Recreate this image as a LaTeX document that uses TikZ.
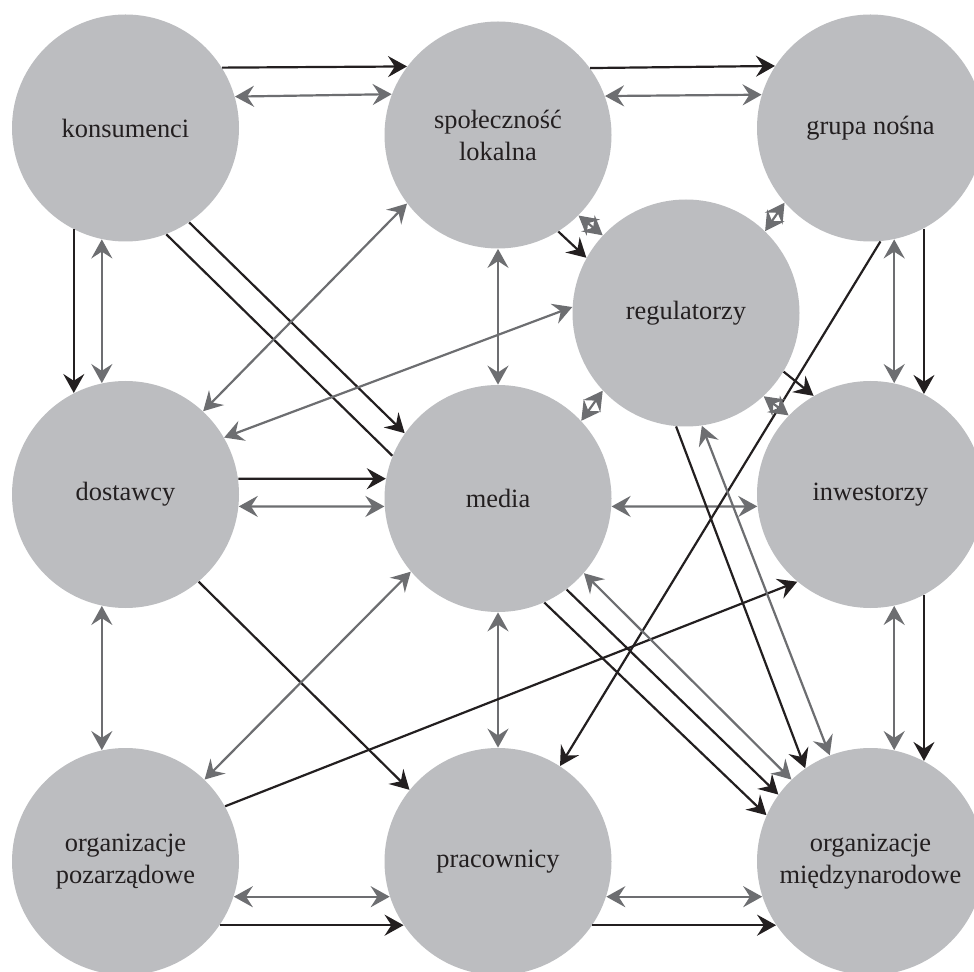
\documentclass[tikz,border=0pt]{standalone}
\usepackage{fontspec}
\setmainfont{Liberation Serif}
\usetikzlibrary{arrows.meta}
\definecolor{discfill}{RGB}{188,189,192}
\definecolor{inkdark}{RGB}{35,31,32}
\definecolor{inkgrey}{RGB}{109,110,113}
\begin{document}
\begin{tikzpicture}[x=0.5pt,y=-0.5pt,
  >={Stealth[length=9.5pt,width=10.5pt,inset=3.4pt]},
  actor/.style={circle, fill=discfill, minimum size=113.5pt, inner sep=0pt,
    align=center, text=inkdark, font=\fontsize{13.2}{16}\selectfont},
  one/.style={draw=inkdark, line width=1.1pt, ->},
  two/.style={draw=inkgrey, line width=1.1pt, <->},
  bare/.style={draw=inkdark, line width=1.1pt}]
\fill[white] (0,0) rectangle (974,972);
\useasboundingbox (0,0) rectangle (974,972);

% stakeholders
\node[actor] (kons) at (125.5,128)   {konsumenci};
\node[actor] (spol) at (498,135)     {społeczność\\lokalna};
\node[actor] (grup) at (870.5,128)   {grupa nośna};
\node[actor] (regu) at (686,313)     {regulatorzy};
\node[actor] (dost) at (125.5,494.5) {dostawcy};
\node[actor] (medi) at (498,498.5)   {media};
\node[actor] (inwe) at (870.5,494.5) {inwestorzy};
\node[actor] (ngos) at (125.5,861.5) {organizacje\\pozarządowe};
\node[actor] (prac) at (498,861.5)   {pracownicy};
\node[actor] (intl) at (870.5,861.5) {organizacje\\międzynarodowe};

% top row
\draw[one] (kons.32.5) -- (spol.143.2);
\draw[two] (kons.16.4) -- (spol.159.9);
\draw[one] (spol.36.8) -- (grup.147.5);
\draw[two] (spol.20.1) -- (grup.163.6);

% left column
\draw[one] (kons.-117.6) -- (dost.117.6);
\draw[two] (kons.-102) -- (dost.102);
\draw[two] (dost.-102) -- (ngos.102);

% diagonals from the top left
\draw[one]  (kons.-56.7) -- (medi.145.1);
\draw[bare] (kons.-69.4) -- (medi.158);
\draw[two]  (spol.217.6) -- (dost.47.8);
\draw[two]  (regu.177.4) -- (dost.30.6);

% middle column
\draw[two] (spol.-90) -- (medi.90);
\draw[two] (medi.-90) -- (prac.90);

% middle row
\draw[one] (dost.8.1) -- (medi.170.1);
\draw[two] (dost.-6.6) -- (medi.184.8);
\draw[two] (medi.-4.8) -- (inwe.186.8);

% lower left
\draw[one] (dost.-50) -- (prac.141.5);
\draw[two] (medi.220.3) -- (ngos.46.2);
\draw[one] (ngos.29.9) -- (inwe.230.4);

% bottom row
\draw[two] (ngos.-18.2) -- (prac.198.2);
\draw[one] (ngos.-34) -- (prac.214);
\draw[two] (prac.-18.2) -- (intl.198.2);
\draw[one] (prac.-34) -- (intl.214);

% towards the international organisations
\draw[one] (grup.-85.2) -- (prac.57.8);
\draw[one] (medi.-66.5) -- (intl.156.6);
\draw[one] (medi.-53.6) -- (intl.144.4);
\draw[two] (medi.-41.8) -- (intl.134.3);
\draw[one] (regu.-95.6) -- (intl.125.4);
\draw[two] (regu.-82) -- (intl.111.8);

% right column
\draw[one] (grup.-62.4) -- (inwe.62.4);
\draw[two] (grup.-78) -- (inwe.78);
\draw[one] (inwe.-62.4) -- (intl.62.4);
\draw[two] (inwe.-78) -- (intl.78);

% around the regulators
\draw[two] (spol.-45.4) -- (regu.137.1);
\draw[one] (spol.-58.5) -- (regu.151.4);
\draw[two] (grup.221.9) -- (regu.46.4);
\draw[two] (regu.223.2) -- (medi.43.8);
\draw[one] (regu.-31.2) -- (inwe.120.9);
\draw[two] (regu.-47.1) -- (inwe.136.5);
\end{tikzpicture}
\end{document}
